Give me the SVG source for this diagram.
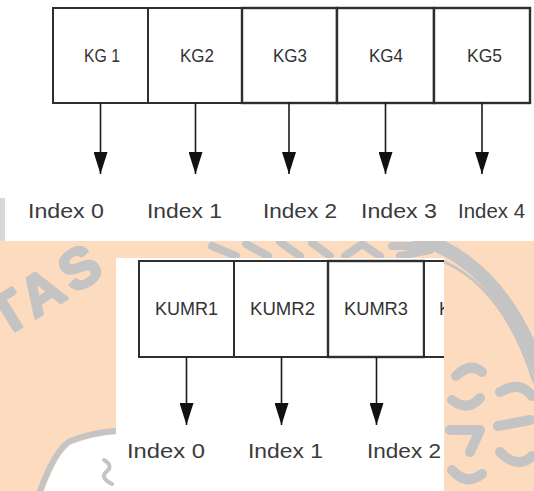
<svg xmlns="http://www.w3.org/2000/svg" width="534" height="491" viewBox="0 0 534 491">
  <defs>
    <style>
      .box { fill: #ffffff; stroke: #2e2e2e; stroke-width: 2; }
      .lbl { font-family: "Liberation Sans", Arial, sans-serif; font-size: 18px; fill: #333333; text-anchor: middle; }
      .idx { font-family: "Liberation Sans", Arial, sans-serif; font-size: 21px; fill: #3a3a3a; }
      .conn line { stroke: #1a1a1a; stroke-width: 1.6; }
      .wm { fill: #c4c4c4; stroke: #c4c4c4; stroke-width: 3; stroke-linejoin: round; }
      .wms { fill: none; stroke: #c4c4c4; stroke-linecap: round; stroke-linejoin: round; }
    </style>
    <marker id="arrow" markerUnits="userSpaceOnUse" markerWidth="22" markerHeight="14" refX="22" refY="7" orient="auto">
      <path d="M0,0 L22,7 L0,14 Z" fill="#111111"/>
    </marker>
    <clipPath id="bottomClip">
      <rect x="116" y="258" width="328" height="233"/>
    </clipPath>
  </defs>

  <!-- watermark background -->
  <g id="watermark">
    <rect x="0" y="0" width="534" height="491" fill="#fddbbf"/>
    <text transform="translate(4,338) rotate(-32)" font-family="Liberation Sans, Arial, sans-serif" font-weight="bold" font-size="56" letter-spacing="6" class="wm">TAS</text>
    <path class="wms" stroke-width="14" d="M418 238 Q 500 262 540 372"/>
    <path class="wms" stroke-width="3" d="M445 262 Q 505 290 534 382"/>
    <path class="wms" stroke-width="10" d="M456 376 Q 470 362 482 372 M452 400 Q 468 412 480 398 M450 430 L480 430 L470 452 M452 470 Q 466 486 482 474 M500 392 Q 520 380 532 396 M498 426 L530 420 M500 452 Q 518 470 532 456"/>
    <path class="wms" stroke-width="8" d="M212 246 L236 256 M246 244 L268 256 M280 242 L300 256 M312 243 L330 256 M345 256 L362 244 L380 256 M392 246 L425 246 M400 256 L430 250"/>
    <path fill="#ffffff" d="M44 491 Q 58 452 72 444 Q 94 436 116 434 L116 491 Z"/>
    <path class="wms" stroke-width="6" d="M40 491 Q 55 450 70 441 Q 94 432 116 431"/>
    <path class="wms" stroke-width="4" d="M104 460 Q 114 466 106 472 Q 100 478 112 484"/>
    <rect x="0" y="198" width="6" height="43" fill="#d8d8d8"/>
  </g>

  <!-- top picture -->
  <rect x="5" y="0" width="529" height="241" fill="#ffffff"/>
  <rect x="0" y="0" width="5" height="198" fill="#ffffff"/>

  <g id="kg1"><rect class="box" x="53" y="8" width="95" height="95"/><text class="lbl" x="102" y="62" textLength="36" lengthAdjust="spacingAndGlyphs">KG 1</text></g>
  <g id="kg2"><rect class="box" x="148" y="8" width="94" height="95"/><text class="lbl" x="197" y="62" textLength="34" lengthAdjust="spacingAndGlyphs">KG2</text></g>
  <g id="kg3"><rect class="box" x="242" y="8" width="95" height="95" style="stroke-width:2.4"/><text class="lbl" x="290" y="62" textLength="34" lengthAdjust="spacingAndGlyphs">KG3</text></g>
  <g id="kg4"><rect class="box" x="337" y="8" width="97" height="95" style="stroke-width:2.4"/><text class="lbl" x="386" y="62" textLength="34" lengthAdjust="spacingAndGlyphs">KG4</text></g>
  <g id="kg5"><rect class="box" x="434" y="8" width="96" height="95" style="stroke-width:2.4"/><text class="lbl" x="484.5" y="62" textLength="35" lengthAdjust="spacingAndGlyphs">KG5</text></g>

  <g id="top-index-labels">
    <text class="idx" x="28" y="218" textLength="76" lengthAdjust="spacingAndGlyphs">Index 0</text>
    <text class="idx" x="147" y="218" textLength="75" lengthAdjust="spacingAndGlyphs">Index 1</text>
    <text class="idx" x="263" y="218" textLength="74" lengthAdjust="spacingAndGlyphs">Index 2</text>
    <text class="idx" x="361" y="218" textLength="76" lengthAdjust="spacingAndGlyphs">Index 3</text>
    <text class="idx" x="458" y="218" textLength="67" lengthAdjust="spacingAndGlyphs">Index 4</text>
  </g>

  <!-- bottom picture -->
  <rect x="116" y="258" width="328" height="233" fill="#ffffff"/>
  <g clip-path="url(#bottomClip)">
    <g id="kumr1"><rect class="box" x="139" y="261" width="95" height="96"/><text class="lbl" x="186.5" y="314.5" textLength="63" lengthAdjust="spacingAndGlyphs">KUMR1</text></g>
    <g id="kumr2"><rect class="box" x="234" y="261" width="94" height="96"/><text class="lbl" x="282.5" y="314.5" textLength="65" lengthAdjust="spacingAndGlyphs">KUMR2</text></g>
    <g id="kumr3"><rect class="box" x="328" y="261" width="96" height="96" style="stroke-width:2.4"/><text class="lbl" x="376" y="314.5" textLength="64" lengthAdjust="spacingAndGlyphs">KUMR3</text></g>
    <g id="kumr4"><rect class="box" x="424" y="261" width="95" height="96"/><text class="lbl" x="439" y="314.5" style="text-anchor:start">K</text></g>
    <g id="bottom-index-labels">
      <text class="idx" x="127" y="458" textLength="78" lengthAdjust="spacingAndGlyphs">Index 0</text>
      <text class="idx" x="248" y="458" textLength="75" lengthAdjust="spacingAndGlyphs">Index 1</text>
      <text class="idx" x="367" y="458" textLength="74" lengthAdjust="spacingAndGlyphs">Index 2</text>
    </g>
  </g>

  <g id="connectors" class="conn">
    <line x1="100.5" y1="103" x2="100.5" y2="174" marker-end="url(#arrow)"/>
    <line x1="195.5" y1="103" x2="195.5" y2="174" marker-end="url(#arrow)"/>
    <line x1="289" y1="103" x2="289" y2="174" marker-end="url(#arrow)"/>
    <line x1="385.5" y1="103" x2="385.5" y2="174" marker-end="url(#arrow)"/>
    <line x1="482" y1="103" x2="482" y2="174" marker-end="url(#arrow)"/>
    <line x1="186.5" y1="357" x2="186.5" y2="425" marker-end="url(#arrow)"/>
    <line x1="281.5" y1="357" x2="281.5" y2="425" marker-end="url(#arrow)"/>
    <line x1="376.5" y1="357" x2="376.5" y2="425" marker-end="url(#arrow)"/>
  </g>
</svg>
